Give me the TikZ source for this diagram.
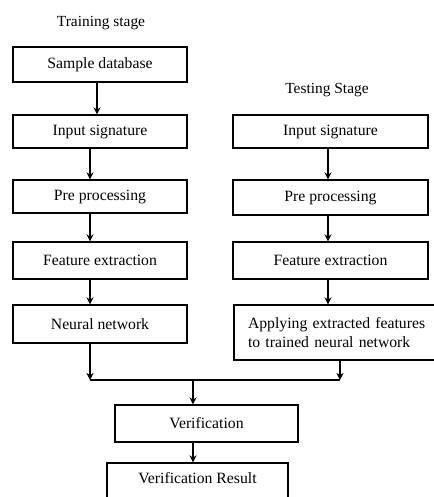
\documentclass[tikz,border=0pt]{standalone}
\usepackage{fontspec}
\setmainfont{Liberation Serif}
\usetikzlibrary{arrows.meta,calc}

\tikzset{
  stagebox/.style={draw, line width=0.8pt, inner sep=0pt, font=\fontsize{11}{13.5}\selectfont},
  flow/.style={line width=0.8pt, -{Stealth[length=5pt,width=5pt]}},
  stagelabel/.style={font=\fontsize{10.8}{13}\selectfont}
}

\begin{document}
\begin{tikzpicture}[x=0.7pt,y=-0.7pt]
  \clip (0,0) rectangle (434,497);
  \fill[white] (0,0) rectangle (434,497);
  % stage titles
  \node[stagelabel] (train) at (101,23) {Training stage};
  \node[stagelabel] (test) at (327,90) {Testing Stage};
  % training column
  \node[stagebox, minimum width=121.8pt, minimum height=24.5pt] (sample) at (100,64.5) {Sample database};
  \node[stagebox, minimum width=121.8pt, minimum height=23.1pt] (in1) at (100,131.5) {Input signature};
  \node[stagebox, minimum width=121.8pt, minimum height=23.1pt] (pre1) at (100,196.5) {Pre processing};
  \node[stagebox, minimum width=121.8pt, minimum height=25.9pt] (feat1) at (100,260.5) {Feature extraction};
  \node[stagebox, minimum width=121.8pt, minimum height=26.6pt] (nn1) at (100,324) {Neural network};
  % testing column
  \node[stagebox, minimum width=136.5pt, minimum height=23.1pt] (in2) at (330.5,131.5) {Input signature};
  \node[stagebox, minimum width=136.5pt, minimum height=24.5pt] (pre2) at (330.5,197.5) {Pre processing};
  \node[stagebox, minimum width=136.5pt, minimum height=25.9pt] (feat2) at (330.5,260.5) {Feature extraction};
  \node[stagebox, minimum width=144.2pt, minimum height=38.5pt, text width=124.6pt, align=left, inner xsep=9.8pt] (apply) at (337,332.5) {Applying extracted features\\to trained neural network};
  % result part
  \node[stagebox, minimum width=128.1pt, minimum height=25.9pt] (verif) at (206.5,423.5) {Verification};
  \node[stagebox, minimum width=126.7pt, minimum height=29.4pt, text height=7.5pt, text depth=8pt] (result) at (197.5,484) {Verification Result};
  % junction
  \coordinate (j1) at (90,380);
  \coordinate (j2) at (340,380);
  \coordinate (jm) at (193,380);
  % connectors
  \draw[flow] ([xshift=-2.1pt]sample.south) -- ([xshift=-2.1pt]in1.north);
  \draw[flow] ([xshift=-7pt]in1.south) -- ([xshift=-7pt]pre1.north);
  \draw[flow] ([xshift=-7pt]pre1.south) -- ([xshift=-7pt]feat1.north);
  \draw[flow] ([xshift=-7pt]feat1.south) -- ([xshift=-7pt]nn1.north);
  \draw[flow] ([xshift=-1.75pt]in2.south) -- ([xshift=-1.75pt]pre2.north);
  \draw[flow] ([xshift=-1.75pt]pre2.south) -- ([xshift=-1.75pt]feat2.north);
  \draw[flow] ([xshift=-1.75pt]feat2.south) -- ([xshift=-1.75pt]apply.north -| feat2.south);
  \draw[flow] (nn1.south -| j1) -- (j1);
  \draw[flow] (apply.south -| j2) -- (j2);
  \draw[line width=0.8pt] (j1) -- (j2);
  \draw[flow] (jm) -- (verif.north -| jm);
  \draw[flow] (verif.south -| jm) -- (result.north -| jm);
\end{tikzpicture}
\end{document}
